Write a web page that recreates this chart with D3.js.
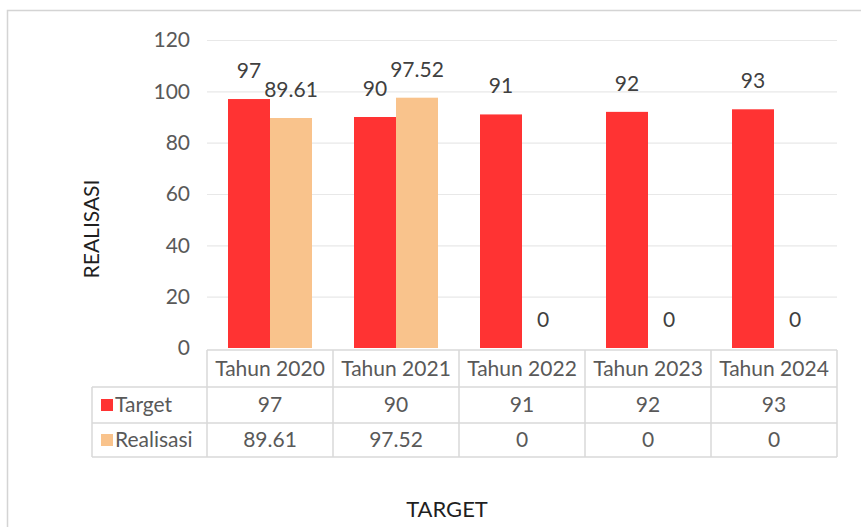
<!DOCTYPE html>
<html>
<head>
<meta charset="utf-8">
<script src="https://cdn.jsdelivr.net/npm/d3@7"></script>
<style>
  html, body { margin: 0; padding: 0; background: #fff; }
  svg { display: block; font-family: Lato, "Liberation Sans", sans-serif; }
</style>
</head>
<body>
<svg id="chart" width="861" height="527"></svg>
<script>
// Chart data
const categories = ["Tahun 2020", "Tahun 2021", "Tahun 2022", "Tahun 2023", "Tahun 2024"];
const seriesNames = ["Target", "Realisasi"];
const targetValues = [97, 90, 91, 92, 93];
const realisasiValues = [89.61, 97.52, 0, 0, 0];
const yTicks = [0, 20, 40, 60, 80, 100, 120];

const colors = { Target: "#FF3333", Realisasi: "#F9C38C" };
const seriesValues = { Target: targetValues, Realisasi: realisasiValues };
const textSize = "21px";

const svg = d3.select("#chart");

// Outer chart frame
svg.append("path")
  .attr("d", "M7.5,527 L7.5,10.5 L861,10.5")
  .attr("fill", "none")
  .attr("stroke", "#D4D4D4")
  .attr("stroke-width", 1.5);

const plotLeft = 207, plotRight = 837, plotTop = 40, plotBottom = 348;

const x = d3.scaleBand().domain(categories).range([plotLeft, plotRight]).paddingInner(0).paddingOuter(0);
const bandW = x.bandwidth();
const xs = d3.scaleBand().domain(seriesNames).range([bandW / 6, bandW * 5 / 6]).padding(0);
const y = d3.scaleLinear().domain([0, 120]).range([plotBottom, plotTop]);

// Gridlines
svg.append("g")
  .selectAll("line")
  .data(yTicks.filter(t => t > 0))
  .join("line")
  .attr("x1", plotLeft).attr("x2", plotRight)
  .attr("y1", d => y(d) + 0.5).attr("y2", d => y(d) + 0.5)
  .attr("stroke", "#E8E8E8").attr("stroke-width", 1.2);

// Y axis labels
const yAxis = d3.axisLeft(y).tickValues(yTicks).tickSize(0).tickPadding(0);
const yg = svg.append("g").attr("transform", `translate(190,0)`).call(yAxis);
yg.select(".domain").remove();
yg.selectAll("text")
  .attr("fill", "#595959")
  .style("font-size", textSize)
  .style("font-family", "Lato, sans-serif");

// Bars
const rows = categories.map((c, i) => ({ cat: c, values: seriesNames.map(s => ({ s, v: seriesValues[s][i] })) }));
const groups = svg.append("g").selectAll("g")
  .data(rows).join("g")
  .attr("transform", d => `translate(${x(d.cat)},0)`);

groups.selectAll("rect")
  .data(d => d.values)
  .join("rect")
  .attr("x", d => xs(d.s))
  .attr("width", xs.bandwidth())
  .attr("y", d => y(d.v))
  .attr("height", d => y(0) - y(d.v))
  .attr("fill", d => colors[d.s]);

// Value labels
groups.selectAll("text")
  .data(d => d.values)
  .join("text")
  .attr("x", d => xs(d.s) + xs.bandwidth() / 2)
  .attr("y", d => y(d.v) - 21)
  .attr("text-anchor", "middle")
  .attr("fill", "#404040")
  .style("font-size", textSize)
  .text(d => d3.format("")(d.v));

// Data table
const tableTop = 350, rowH = [37, 36, 34], legendLeft = 92;
const rowY = [tableTop, tableTop + rowH[0], tableTop + rowH[0] + rowH[1], tableTop + rowH[0] + rowH[1] + rowH[2]];
const tbl = svg.append("g").attr("stroke", "#D9D9D9").attr("stroke-width", 1.5).attr("fill", "none");

// horizontal rules
tbl.append("line").attr("x1", plotLeft).attr("x2", plotRight).attr("y1", rowY[0]).attr("y2", rowY[0]);
[1, 2, 3].forEach(k => {
  tbl.append("line").attr("x1", legendLeft).attr("x2", plotRight).attr("y1", rowY[k]).attr("y2", rowY[k]);
});
// vertical rules
tbl.append("line").attr("x1", legendLeft).attr("x2", legendLeft).attr("y1", rowY[1]).attr("y2", rowY[3]);
categories.forEach(c => {
  tbl.append("line").attr("x1", x(c)).attr("x2", x(c)).attr("y1", rowY[0]).attr("y2", rowY[3]);
});
tbl.append("line").attr("x1", plotRight).attr("x2", plotRight).attr("y1", rowY[0]).attr("y2", rowY[3]);

const cellText = svg.append("g")
  .attr("fill", "#595959")
  .style("font-size", textSize)
  .attr("text-anchor", "middle");

cellText.selectAll("text.hdr")
  .data(categories).join("text")
  .attr("class", "hdr")
  .attr("x", d => x(d) + bandW / 2)
  .attr("y", (rowY[0] + rowY[1]) / 2)
  .attr("dy", "0.35em")
  .text(d => d);

seriesNames.forEach((s, k) => {
  const cy = (rowY[k + 1] + rowY[k + 2]) / 2;
  cellText.selectAll(`text.v${k}`)
    .data(seriesValues[s]).join("text")
    .attr("class", `v${k}`)
    .attr("x", (d, i) => x(categories[i]) + bandW / 2)
    .attr("y", cy)
    .attr("dy", "0.35em")
    .text(d => d3.format("")(d));

  svg.append("rect")
    .attr("x", 101).attr("y", cy - 6)
    .attr("width", 12).attr("height", 12)
    .attr("fill", colors[s]);
  svg.append("text")
    .attr("x", 115).attr("y", cy).attr("dy", "0.35em")
    .attr("fill", "#595959")
    .style("font-size", textSize)
    .text(s);
});

// Axis titles
svg.append("text")
  .attr("transform", "translate(99,229) rotate(-90)")
  .attr("text-anchor", "middle")
  .attr("fill", "#1F1F1F")
  .style("font-size", "21px")
  .text("REALISASI");

svg.append("text")
  .attr("x", 447).attr("y", 517)
  .attr("text-anchor", "middle")
  .attr("fill", "#1F1F1F")
  .style("font-size", "22px")
  .text("TARGET");
</script>
</body>
</html>
